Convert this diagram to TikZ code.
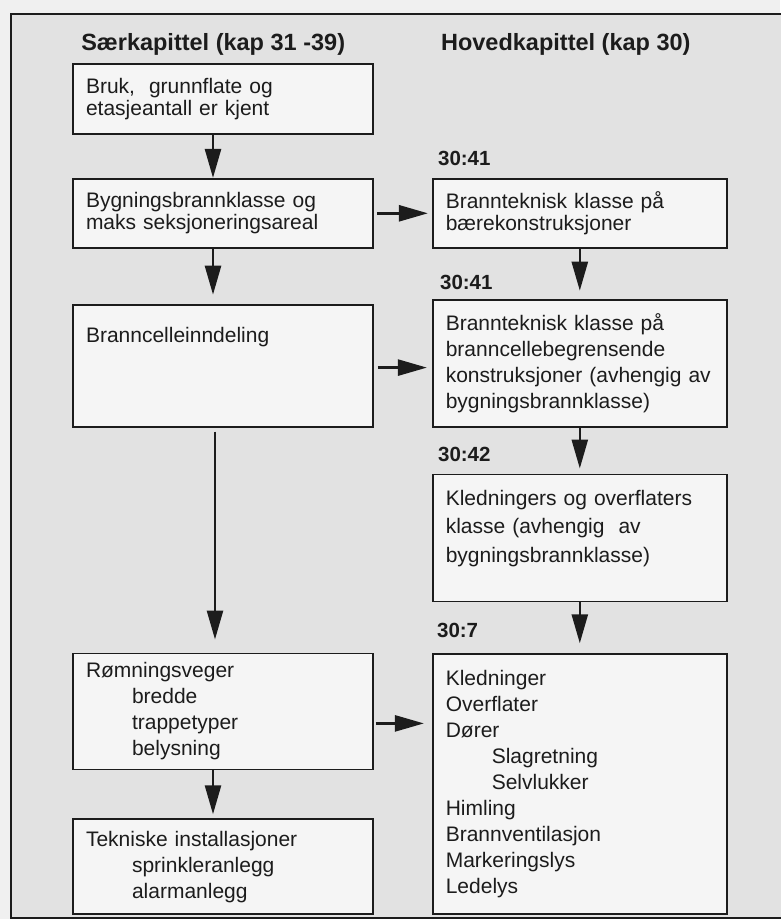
\documentclass[tikz,border=0pt]{standalone}
\usepackage{fontspec}
\setmainfont{Liberation Sans}
\usepackage{xcolor}
\usepackage{tikz}
\usetikzlibrary{arrows.meta, positioning, calc}
\definecolor{ink}{RGB}{28,28,28}
\definecolor{paper}{RGB}{226,226,226}
\definecolor{margin}{RGB}{240,240,240}
\definecolor{boxfill}{RGB}{245,245,245}
\newcommand{\indt}{\hspace*{46pt}}

\begin{document}
\begin{tikzpicture}[
    box/.style={rectangle, draw=ink, line width=1.8pt, fill=boxfill, align=left, text=ink,
                inner xsep=13pt, inner ysep=6pt, font=\fontsize{21}{26}\selectfont},
    lbox/.style={box, text width=274pt},
    rbox/.style={box, text width=268pt},
    tight/.style={font=\fontsize{21}{22.5}\selectfont},
    loose/.style={font=\fontsize{21}{28.3}\selectfont},
    head/.style={font=\bfseries\fontsize{23.5}{28}\selectfont, text=ink, inner sep=0pt},
    secno/.style={font=\bfseries\fontsize{20.5}{24}\selectfont, text=ink, inner sep=0pt},
    arrow/.style={-{Triangle[length=29pt, width=16pt]}, line width=2.6pt, draw=ink}
]

% Page and frame
\useasboundingbox (0,0) rectangle (780pt,-919pt);
\fill[margin] (0,0) rectangle (780pt,-919pt);
\draw[ink, line width=1.4pt, fill=paper] (11pt,-14pt) rectangle (800pt,-918pt);

% Saerkapittel column
\node[lbox, tight, minimum height=70pt] (use) at (223pt,-99pt) {Bruk,~ grunnflate og\\etasjeantall er kjent};
\node[lbox, tight, minimum height=69pt, below=43pt of use] (class) {Bygningsbrannklasse og\\maks seksjoneringsareal};
\node[lbox, minimum height=122pt, text height=32pt, text depth=78pt, below=55pt of class] (cells) {Branncelleinndeling};
\node[lbox, minimum height=116pt, below=225pt of cells] (escape) {R\o mningsveger\\\indt bredde\\\indt trappetyper\\\indt belysning};
\node[lbox, minimum height=95pt, below=48pt of escape] (install) {Tekniske installasjoner\\\indt sprinkleranlegg\\\indt alarmanlegg};

% Hovedkapittel column
\node[rbox, tight, minimum height=69pt, right=58pt of class] (beam) {Brannteknisk klasse på\\bærekonstruksjoner};
\node[rbox, minimum height=127pt, below=50pt of beam] (walls) {Brannteknisk klasse på\\branncellebegrensende\\konstruksjoner (avhengig av\\bygningsbrannklasse)};
\node[rbox, loose, minimum height=127pt, text height=25pt, text depth=90pt, below=46pt of walls] (lining) {Kledningers og overflaters\\klasse (avhengig~ av\\bygningsbrannklasse)};
\node[rbox, minimum height=260pt, below=51pt of lining] (fixtures) {Kledninger\\Overflater\\Dører\\\indt Slagretning\\\indt Selvlukker\\Himling\\Brannventilasjon\\Markeringslys\\Ledelys};

% Headings
\node[head, above right=8pt and 9pt of use.north west] (sidehead) {Særkapittel (kap 31 -39)};
\node[head, anchor=base west] (mainhead) at ([xshift=9pt]beam.west |- sidehead.base) {Hovedkapittel (kap 30)};

% Section numbers
\node[secno, above right=12pt and 6pt of beam.north west] (sec41a) {30:41};
\node[secno, above right=9pt and 8pt of walls.north west] (sec41b) {30:41};
\node[secno, above right=12pt and 6pt of lining.north west] (sec42) {30:42};
\node[secno, above right=15pt and 5pt of fixtures.north west] (sec7) {30:7};

% Arrows
\draw[arrow] ([xshift=-10pt]use.south) -- ([xshift=-10pt]class.north);
\draw[arrow, shorten >=9pt] ([xshift=-10pt]class.south) -- ([xshift=-10pt]cells.north);
\draw[arrow, shorten <=4pt, shorten >=13pt] ([xshift=-8pt]cells.south) -- ([xshift=-8pt]escape.north);
\draw[arrow, shorten >=4pt] ([xshift=-10pt]escape.south) -- ([xshift=-10pt]install.north);
\draw[arrow, shorten <=3pt, shorten >=4pt] (class) -- (beam);
\draw[arrow, shorten <=4pt, shorten >=5pt] ([yshift=-2pt]cells.east) -- ([yshift=-2pt]cells.east -| walls.west);
\draw[arrow, shorten <=2pt, shorten >=8pt] ([yshift=-12pt]escape.east) -- ([yshift=-12pt]escape.east -| fixtures.west);
\draw[arrow, shorten >=8pt] (beam) -- (walls);
\draw[arrow, shorten >=5pt] (walls) -- (lining);
\draw[arrow, shorten >=10pt] (lining) -- (fixtures);

\end{tikzpicture}
\end{document}
